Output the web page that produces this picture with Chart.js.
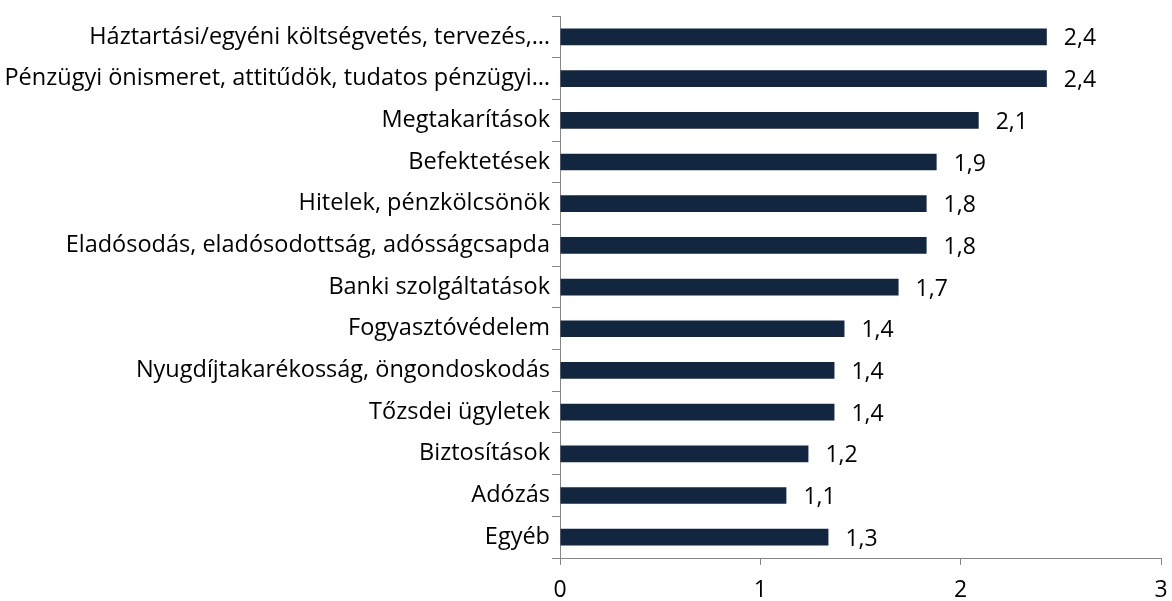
<!DOCTYPE html>
<html>
<head>
<meta charset="utf-8">
<script src="https://cdn.jsdelivr.net/npm/chart.js@4"></script>
<style>
html,body{margin:0;padding:0;background:#fff;}
#wrap{width:1172px;height:601px;position:relative;}
</style>
</head>
<body>
<div id="wrap"><canvas id="c" width="1172" height="601"></canvas></div>
<script>
const categories = [
  "Háztartási/egyéni költségvetés, tervezés,…",
  "Pénzügyi önismeret, attitűdök, tudatos pénzügyi…",
  "Megtakarítások",
  "Befektetések",
  "Hitelek, pénzkölcsönök",
  "Eladósodás, eladósodottság, adósságcsapda",
  "Banki szolgáltatások",
  "Fogyasztóvédelem",
  "Nyugdíjtakarékosság, öngondoskodás",
  "Tőzsdei ügyletek",
  "Biztosítások",
  "Adózás",
  "Egyéb"
];
const values = [2.43, 2.43, 2.09, 1.88, 1.83, 1.83, 1.69, 1.42, 1.37, 1.37, 1.24, 1.13, 1.34];
const xTicks = [0, 1, 2, 3];

const FONT = "'Open Sans', sans-serif";
const labelPlugin = {
  id: 'valLabels',
  afterDatasetsDraw(chart) {
    const ctx = chart.ctx;
    const meta = chart.getDatasetMeta(0);
    ctx.save();
    ctx.font = "23px " + FONT;
    ctx.fillStyle = "#000";
    ctx.textBaseline = "middle";
    ctx.textAlign = "left";
    meta.data.forEach((bar, i) => {
      const txt = values[i].toFixed(1).replace('.', ',');
      ctx.fillText(txt, bar.x + 17, bar.y + 2);
    });
    ctx.restore();
  }
};

new Chart(document.getElementById('c'), {
  type: 'bar',
  data: {
    labels: categories,
    datasets: [{
      data: values,
      backgroundColor: '#13263f',
      borderWidth: 0,
      barPercentage: 0.4,
      categoryPercentage: 1.0
    }]
  },
  options: {
    indexAxis: 'y',
    responsive: false,
    animation: false,
    devicePixelRatio: 1,
    layout: { padding: { top: 16, right: 11, left: 0, bottom: 0 } },
    plugins: { legend: { display: false }, tooltip: { enabled: false } },
    scales: {
      x: {
        min: 0, max: 3,
        afterBuildTicks(axis) { axis.ticks = xTicks.map(v => ({ value: v })); },
        afterFit(axis) { axis.height = 43; axis.paddingRight = 0; axis.paddingLeft = 0; },
        border: { display: true, color: '#868686', width: 1 },
        grid: { display: true, drawOnChartArea: false, drawTicks: true, tickLength: 7, color: '#868686' },
        ticks: { color: '#000', font: { family: FONT, size: 23 }, padding: 12, maxRotation: 0 }
      },
      y: {
        afterFit(axis) { axis.width = 560; },
        border: { display: true, color: '#868686', width: 1 },
        grid: { display: true, offset: true, drawOnChartArea: false, drawTicks: true, tickLength: 8, color: '#868686' },
        ticks: { color: '#000', font: { family: FONT, size: 23.5 }, padding: 2, autoSkip: false }
      }
    }
  },
  plugins: [labelPlugin]
});
</script>
</body>
</html>
